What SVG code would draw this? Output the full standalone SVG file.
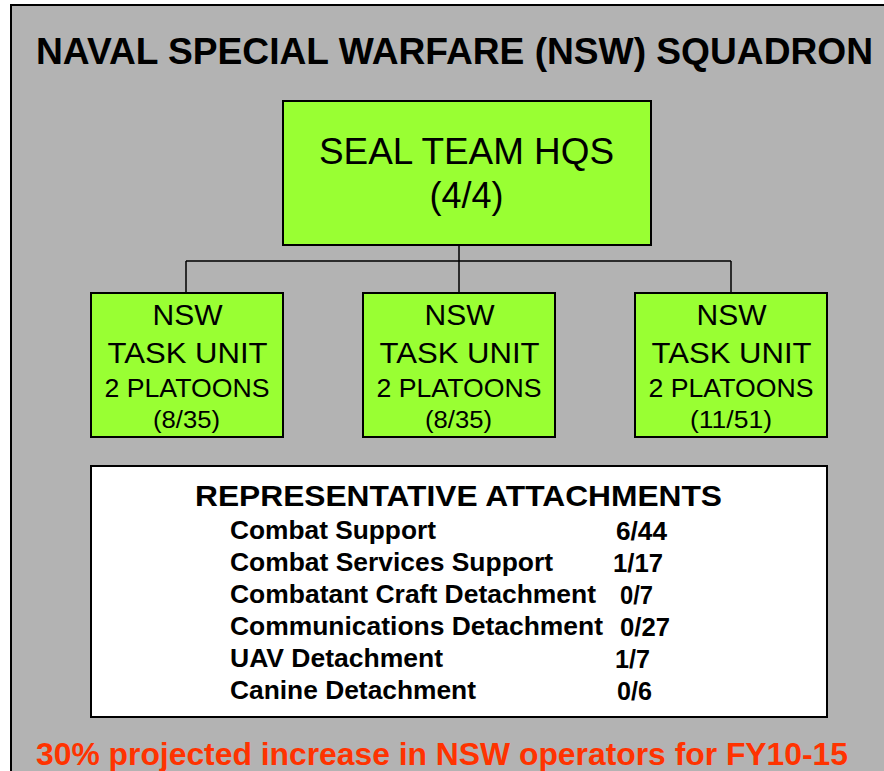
<svg xmlns="http://www.w3.org/2000/svg" width="884" height="771" viewBox="0 0 884 771">
<style>
.t{font-family:"Liberation Sans",Arial,sans-serif;fill:#000}
.b{font-weight:bold}
.box{fill:#99FF33;stroke:#000;stroke-width:2}
.conn{fill:none;stroke:#000;stroke-width:1.5}
.mid{text-anchor:middle}
</style>
<rect width="884" height="771" fill="#fff"/>
<rect x="11" y="5" width="880" height="775" fill="#B3B3B3" stroke="#000" stroke-width="2"/>
<text class="t b mid" x="454.5" y="64" font-size="36.5" textLength="837" lengthAdjust="spacingAndGlyphs">NAVAL SPECIAL WARFARE (NSW) SQUADRON</text>
<g id="connectors">
<path class="conn" d="M459 245V261M186 261H731M186 261V293M459 261V293M731 261V293"/>
</g>
<g id="hq">
<rect class="box" x="283" y="101" width="368" height="144"/>
<text class="t mid" x="466.5" y="164" font-size="36" textLength="295" lengthAdjust="spacingAndGlyphs">SEAL TEAM HQS</text>
<text class="t mid" x="466.5" y="208" font-size="36">(4/4)</text>
</g>
<g id="tu1">
<rect class="box" x="91" y="293" width="192" height="144"/>
<text class="t mid" x="187.5" y="325" font-size="30">NSW</text>
<text class="t mid" x="187.5" y="363" font-size="30" textLength="160" lengthAdjust="spacingAndGlyphs">TASK UNIT</text>
<text class="t mid" x="187" y="397" font-size="25" textLength="165" lengthAdjust="spacingAndGlyphs">2 PLATOONS</text>
<text class="t mid" x="186.5" y="428" font-size="23" textLength="67" lengthAdjust="spacingAndGlyphs">(8/35)</text>
</g>
<g id="tu2">
<rect class="box" x="363" y="293" width="192" height="144"/>
<text class="t mid" x="459.5" y="325" font-size="30">NSW</text>
<text class="t mid" x="459.5" y="363" font-size="30" textLength="160" lengthAdjust="spacingAndGlyphs">TASK UNIT</text>
<text class="t mid" x="459" y="397" font-size="25" textLength="165" lengthAdjust="spacingAndGlyphs">2 PLATOONS</text>
<text class="t mid" x="458.5" y="428" font-size="23" textLength="67" lengthAdjust="spacingAndGlyphs">(8/35)</text>
</g>
<g id="tu3">
<rect class="box" x="635" y="293" width="192" height="144"/>
<text class="t mid" x="731.5" y="325" font-size="30">NSW</text>
<text class="t mid" x="731.5" y="363" font-size="30" textLength="160" lengthAdjust="spacingAndGlyphs">TASK UNIT</text>
<text class="t mid" x="731" y="397" font-size="25" textLength="165" lengthAdjust="spacingAndGlyphs">2 PLATOONS</text>
<text class="t mid" x="731" y="428" font-size="23" textLength="82" lengthAdjust="spacingAndGlyphs">(11/51)</text>
</g>
<g id="attachments">
<rect x="91" y="466" width="736" height="251" fill="#fff" stroke="#000" stroke-width="2"/>
<text class="t b mid" x="458.5" y="506" font-size="30" textLength="527" lengthAdjust="spacingAndGlyphs">REPRESENTATIVE ATTACHMENTS</text>
<g class="t b" font-size="26.3">
<text x="230" y="539" textLength="206" lengthAdjust="spacingAndGlyphs">Combat Support</text>
<text x="230" y="571" textLength="323" lengthAdjust="spacingAndGlyphs">Combat Services Support</text>
<text x="230" y="603" textLength="366" lengthAdjust="spacingAndGlyphs">Combatant Craft Detachment</text>
<text x="230" y="635" textLength="373" lengthAdjust="spacingAndGlyphs">Communications Detachment</text>
<text x="230" y="667" textLength="213" lengthAdjust="spacingAndGlyphs">UAV Detachment</text>
<text x="230" y="699" textLength="246" lengthAdjust="spacingAndGlyphs">Canine Detachment</text>
<text x="616" y="540" textLength="51" lengthAdjust="spacingAndGlyphs">6/44</text>
<text x="613" y="572" textLength="50" lengthAdjust="spacingAndGlyphs">1/17</text>
<text x="620" y="604" textLength="33" lengthAdjust="spacingAndGlyphs">0/7</text>
<text x="620" y="636" textLength="50" lengthAdjust="spacingAndGlyphs">0/27</text>
<text x="615" y="668" textLength="35" lengthAdjust="spacingAndGlyphs">1/7</text>
<text x="617" y="700" textLength="35" lengthAdjust="spacingAndGlyphs">0/6</text>
</g>
</g>
<text class="t b" x="36" y="765" font-size="31.5" fill="#FF3300" style="fill:#FF3300" textLength="812" lengthAdjust="spacingAndGlyphs">30% projected increase in NSW operators for FY10-15</text>
</svg>
